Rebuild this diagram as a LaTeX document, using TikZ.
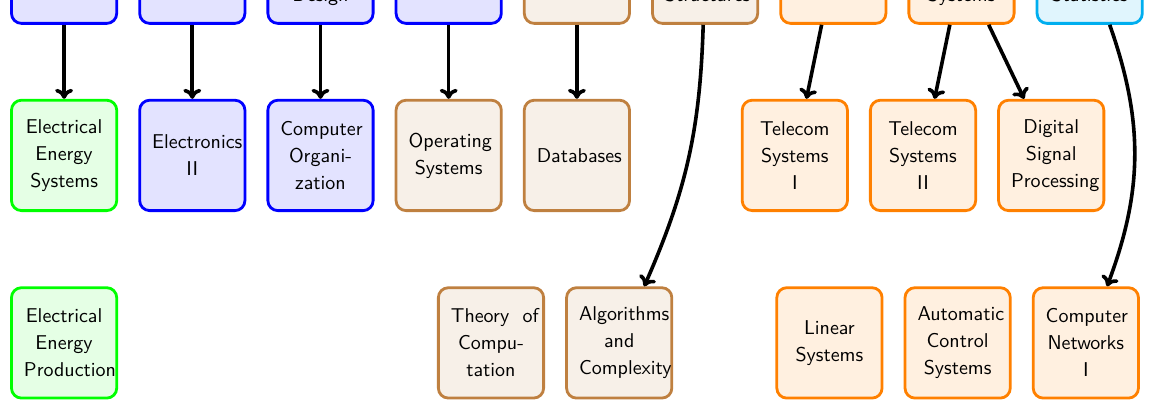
\documentclass[tikz,border=0pt]{standalone}
\usepackage{tikz}
\usetikzlibrary{arrows.meta}

\definecolor{statblue}{RGB}{0,174,239}

\tikzstyle{course}=[draw, line width=1.4pt, rounded corners=5pt, minimum width=1.85cm, minimum height=1.94cm, text width=1.41cm, align=flush center, font=\sffamily\fontsize{10}{13.5}\selectfont]
\tikzstyle{elc}=[course, draw=blue, fill=blue!11]
\tikzstyle{pwr}=[course, draw=green, fill=green!10]
\tikzstyle{cs}=[course, draw=brown, fill=brown!12]
\tikzstyle{tel}=[course, draw=orange, fill=orange!12]
\tikzstyle{mth}=[course, draw=statblue, fill=statblue!12]
\tikzstyle{cropped}=[text height=41pt, text depth=7.8pt]
\tikzstyle{req}=[line width=1.8pt, -{To[length=5pt, width=9pt]}]

\begin{document}
\begin{tikzpicture}[x=2.253cm, y=3.295cm]
      \useasboundingbox (0, 0.829) rectangle (8.994, -1.357);
      \clip (0, 0.829) rectangle (8.994, -1.357);

      % first year, cut at the top
      \node[elc, cropped] (p1) at (0.5, 1) {};
      \node[elc, cropped] (p2) at (1.5, 1) {};
      \node[elc, cropped] (p3) at (2.5, 1) {Design};
      \node[elc, cropped] (p4) at (3.5, 1) {};
      \node[cs, cropped] (p5) at (4.5, 1) {};
      \node[cs, cropped] (p6) at (5.5, 1) {Structures};
      \node[tel, cropped] (p7) at (6.5, 1) {};
      \node[tel, cropped] (p8) at (7.5, 1) {Systems};
      \node[mth, cropped] (p9) at (8.5, 1) {Statistics};

      % second row
      \node[pwr] (ees) at (0.5, 0) {Electrical\\Energy\\Systems};
      \node[elc] (el2) at (1.5, 0) {Electronics\\II};
      \node[elc] (co) at (2.5, 0) {Computer\\Organi-\\zation};
      \node[cs] (os) at (3.5, 0) {Operating\\Systems};
      \node[cs] (db) at (4.5, 0) {Databases};
      \node[tel] (tc1) at (6.2, 0) {Telecom\\Systems\\I};
      \node[tel] (tc2) at (7.2, 0) {Telecom\\Systems\\II};
      \node[tel] (dsp) at (8.2, 0) {Digital\\Signal\\Processing};

      % third row
      \node[pwr] (eep) at (0.5, -1) {Electrical\\Energy\\Production};
      \node[cs] (toc) at (3.83, -1) {\mbox{Theory\ \ of}\\Compu-\\tation};
      \node[cs] (alg) at (4.83, -1) {Algorithms\\and\\Complexity};
      \node[tel] (ls) at (6.47, -1) {Linear\\Systems};
      \node[tel] (acs) at (7.47, -1) {Automatic\\Control\\Systems};
      \node[tel] (cn1) at (8.47, -1) {Computer\\Networks\\I};

      \draw[req] (p1) to (ees);
      \draw[req] (p2) to (el2);
      \draw[req] (p3) to (co);
      \draw[req] (p4) to (os);
      \draw[req] (p5) to (db);
      \draw[req] (p6) to[bend left=11] (alg);
      \draw[req] (p7) to (tc1);
      \draw[req] (p8) to (tc2);
      \draw[req] (p8) to (dsp);
      \draw[req] (p9) to[bend left=20] (cn1);
    \end{tikzpicture}
\end{document}
